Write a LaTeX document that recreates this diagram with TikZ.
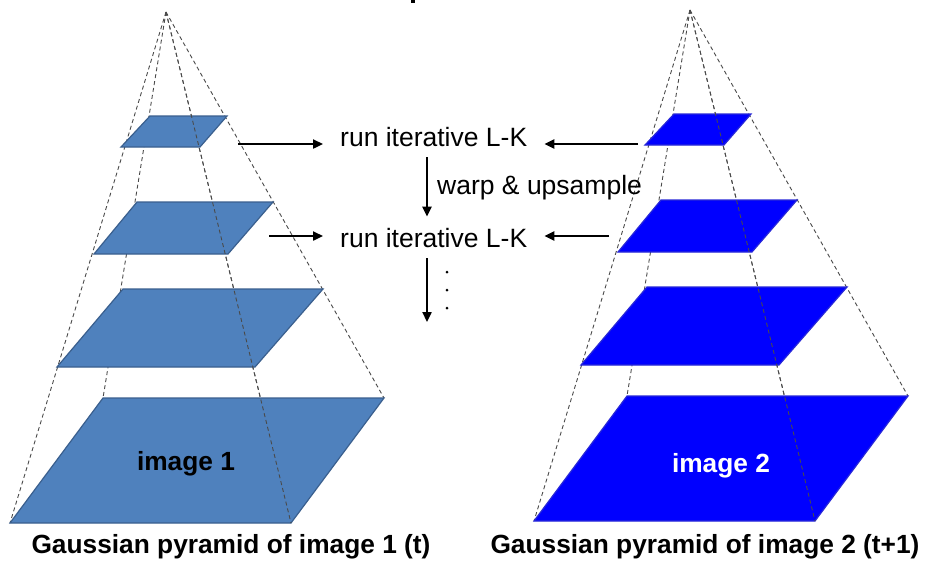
\documentclass[tikz,border=0pt]{standalone}
\usepackage{fontspec}
\setmainfont{Liberation Sans}
\usetikzlibrary{arrows.meta}
\definecolor{lblue}{HTML}{4F81BD}
\definecolor{lborder}{HTML}{3A5F8E}
\definecolor{rblue}{HTML}{0000FF}
\definecolor{rborder}{HTML}{2828D8}
\definecolor{dashgray}{HTML}{4A4A4A}
\tikzset{
  guide/.style={draw=dashgray, line width=0.9pt, dash pattern=on 4pt off 3pt},
  layerA/.style={fill=lblue, draw=lborder, line width=1.2pt, line join=miter},
  layerB/.style={fill=rblue, draw=rborder, line width=1.2pt, line join=miter},
  lbl/.style={font=\fontsize{26.5}{30}\selectfont, inner xsep=17pt, inner ysep=11pt},
  captxt/.style={font=\fontsize{26.3}{30}\selectfont\bfseries, inner sep=0pt},
  flow/.style={line width=2.3pt, -{Triangle[length=10pt,width=9pt]}},
}
\newcommand\pyrdraw[1]{%
  \coordinate (apex) at (166,12);
  \draw[guide] (apex) -- (103,398);
  \draw[guide] (apex) -- (384,398);
  \draw[guide] (apex) -- (10,523);
  \draw[guide] (apex) -- (291,523);
  \draw[#1] (150,116) -- (227,116) -- (200,147) -- (121,147) -- cycle;
  \draw[#1] (137,202) -- (273,202) -- (228,254) -- (94,254) -- cycle;
  \draw[#1] (123,289) -- (323,289) -- (255,367) -- (57,367) -- cycle;
  \draw[#1] (103,398) -- (384,398) -- (291,523) -- (10,523) -- cycle;
  \draw[guide] (apex) -- (291,523);
}
\begin{document}
\begin{tikzpicture}[x=1pt, y=-1pt]
\useasboundingbox (0,0) rectangle (942,574);
\fill[white] (0,0) rectangle (942,574);
\fill[black] (411,0) rectangle (415,3);

% left pyramid
\begin{scope}
  \pyrdraw{layerA}
\end{scope}
% right pyramid
\begin{scope}[shift={(524,-2)}]
  \pyrdraw{layerB}
\end{scope}

\node[captxt, anchor=base] (img1) at (186,470) {image 1};
\node[captxt, anchor=base, text=white] (img2) at (721,472) {image 2};
\node[captxt, anchor=base] (capL) at (231,553) {Gaussian pyramid of image 1 (t)};
\node[captxt, anchor=base] (capR) at (705,553) {Gaussian pyramid of image 2 (t+1)};

% middle
\node[lbl, anchor=base west] (rk1) at (323,146) {run iterative L-K};
\node[lbl, anchor=base west] (rk2) at (323,247) {run iterative L-K};
\node[font=\fontsize{26.5}{30}\selectfont, inner sep=0pt, anchor=base west] (warp) at (437,194) {warp \& upsample};

\coordinate (la1) at (238,144);
\coordinate (la2) at (269,236);
\coordinate (ra1) at (638,144);
\coordinate (ra2) at (609,236);
\coordinate (vx) at (427,0);
\coordinate (dend) at (427,322);

\draw[flow] (la1) -- (la1 -| rk1.west);
\draw[flow] (la2) -- (la2 -| rk2.west);
\draw[flow] (ra1) -- (ra1 -| rk1.east);
\draw[flow] (ra2) -- (ra2 -| rk2.east);
\draw[flow] (rk1.south -| vx) -- (rk2.north -| vx);
\draw[flow] (rk2.south -| vx) -- (dend);

\fill (447,272) circle (1.5);
\fill (447,290) circle (1.5);
\fill (447,308) circle (1.5);
\end{tikzpicture}
\end{document}
